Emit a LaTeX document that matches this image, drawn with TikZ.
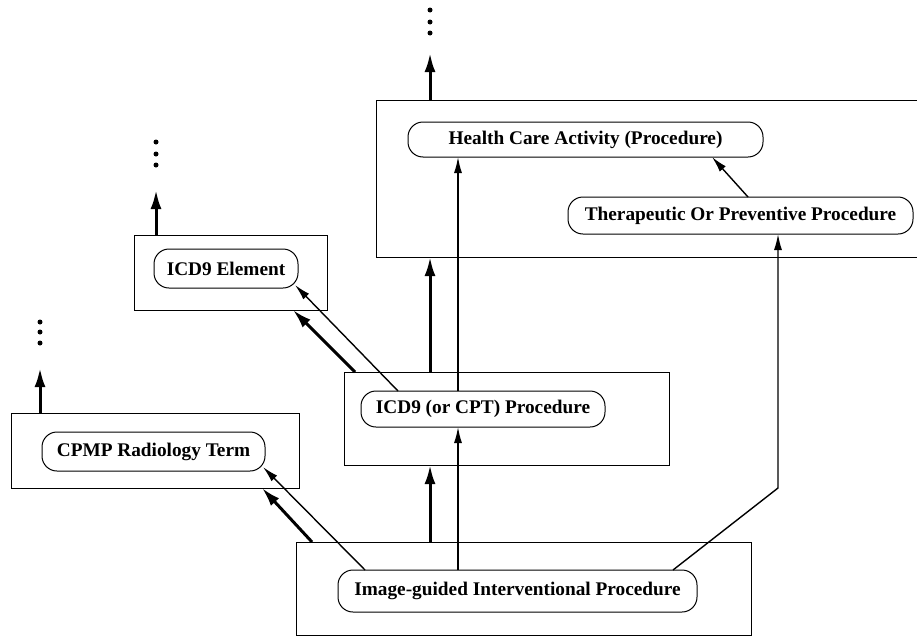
\documentclass[tikz,border=0pt]{standalone}
\usepackage{fontspec}
\setmainfont{Liberation Serif}
\usetikzlibrary{arrows.meta}
\begin{document}
\begin{tikzpicture}[x=1pt,y=-1pt,
  concept/.style={draw, rounded corners=15pt, line width=1pt, inner sep=0pt, outer sep=0pt,
    font=\fontsize{19.3}{22}\selectfont\bfseries},
  group/.style={draw, line width=1pt, inner sep=0pt, outer sep=0pt},
  isa/.style={-{Latex[length=16pt,width=8pt]}, line width=1.4pt},
  heavy/.style={-{Latex[length=19pt,width=11pt]}, line width=3pt},
  dot/.style={circle, fill, inner sep=0pt, minimum size=5pt}
]
\useasboundingbox (0,0) rectangle (917,637);

% grouping frames
\node[group, minimum width=544pt, minimum height=157pt] (hcabox)  at (648,178.5) {};
\node[group, minimum width=193pt, minimum height=75pt]  (icdebox) at (230.5,272.5) {};
\node[group, minimum width=325pt, minimum height=93pt]  (icdpbox) at (506.5,418.5) {};
\node[group, minimum width=288pt, minimum height=75pt]  (cpmpbox) at (155,450.5) {};
\node[group, minimum width=455pt, minimum height=93pt]  (igpbox)  at (523.5,588.5) {};

% concepts
\node[concept, minimum width=355pt, minimum height=35pt] (hca)  at (585.5,139.5) {Health Care Activity (Procedure)};
\node[concept, minimum width=345pt, minimum height=37pt] (ther) at (740.5,215.5) {Therapeutic Or Preventive Procedure};
\node[concept, minimum width=144pt, minimum height=39pt] (icde) at (226,268.5) {ICD9 Element};
\node[concept, minimum width=244pt, minimum height=36pt] (icdp) at (483,409) {ICD9 (or CPT) Procedure};
\node[concept, minimum width=223pt, minimum height=39pt] (cpmp) at (153.5,451.5) {CPMP Radiology Term};
\node[concept, minimum width=359pt, minimum height=42pt] (igp)  at (517.5,591) {Image-guided Interventional Procedure};

% helper columns and free ends
\coordinate (colA) at (430,0);
\coordinate (colB) at (458,0);
\coordinate (colC) at (778,0);
\coordinate (topA) at (430,53);
\coordinate (topE) at (156,190);
\coordinate (topC) at (40,368);
\coordinate (bend) at (778,488);

% continuation dots
\foreach \yy [count=\i] in {10,22,33}  \node[dot] (dA\i) at (430,\yy) {};
\foreach \yy [count=\i] in {142,154,165} \node[dot] (dE\i) at (156,\yy) {};
\foreach \yy [count=\i] in {322,332,343} \node[dot] (dC\i) at (40,\yy) {};

% links between frames
\draw[heavy] (igpbox.north -| colA) -- (icdpbox.south -| colA);
\draw[heavy] (icdpbox.north -| colA) -- (hcabox.south -| colA);
\draw[heavy] (hcabox.north -| colA) -- (topA);
\draw[heavy] (icdebox.north -| topE) -- (topE);
\draw[heavy] (cpmpbox.north -| topC) -- (topC);
\draw[heavy] ([xshift=11pt]icdpbox.north west) -- ([xshift=-34pt]icdebox.south east);
\draw[heavy] ([xshift=16pt]igpbox.north west) -- ([xshift=-37pt]cpmpbox.south east);

% links between concepts
\draw[isa] (igp.north -| colB) -- (icdp.south -| colB);
\draw[isa] (icdp.north -| colB) -- (hca.south -| colB);
\draw[isa] ([xshift=7.5pt]ther.north) -- ([xshift=126.5pt]hca.south);
\draw[isa] ([xshift=-24pt]igp.north east) -- (bend) -- (ther.south -| colC);
\draw[isa] ([xshift=27pt]igp.north west) -- ([xshift=-2pt,yshift=4pt]cpmp.south east);
\draw[isa] ([xshift=37pt]icdp.north west) -- ([xshift=-3pt,yshift=3pt]icde.south east);
\end{tikzpicture}
\end{document}
